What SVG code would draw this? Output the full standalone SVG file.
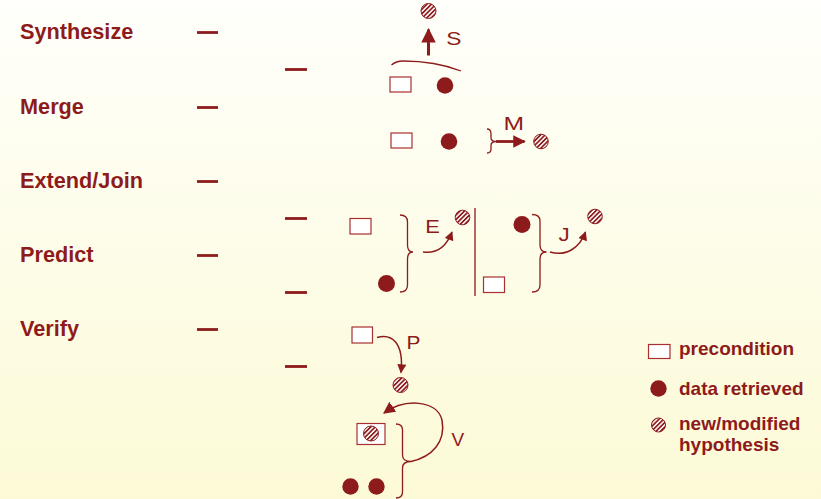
<svg xmlns="http://www.w3.org/2000/svg" width="821" height="499" viewBox="0 0 821 499">
<defs>
<linearGradient id="bg" x1="0" y1="0" x2="0" y2="1">
<stop offset="0" stop-color="#fffffb"/>
<stop offset="1" stop-color="#fcfad6"/>
</linearGradient>
<pattern id="hatch" patternUnits="userSpaceOnUse" width="3.2" height="3.2" patternTransform="rotate(45)">
<rect width="3.2" height="3.2" fill="#ffffff"/>
<rect width="1.7" height="3.2" fill="#8e1b1b"/>
</pattern>
<marker id="ahS" markerUnits="userSpaceOnUse" viewBox="0 0 10 10" refX="9" refY="5" markerWidth="15" markerHeight="14.5" orient="auto"><path d="M0,0 L10,5 L0,10 z" fill="#8e1b1b"/></marker>
<marker id="ahM" markerUnits="userSpaceOnUse" viewBox="0 0 10 10" refX="9" refY="5" markerWidth="14" markerHeight="12.5" orient="auto"><path d="M0,0 L10,5 L0,10 z" fill="#8e1b1b"/></marker>
<marker id="ahs" markerUnits="userSpaceOnUse" viewBox="0 0 10 10" refX="9" refY="5" markerWidth="10" markerHeight="9" orient="auto"><path d="M0,0 L10,5 L0,10 z" fill="#8e1b1b"/></marker>
<marker id="ahV" markerUnits="userSpaceOnUse" viewBox="0 0 10 10" refX="9" refY="5" markerWidth="12" markerHeight="12" orient="auto"><path d="M0,0 L10,5 L0,10 z" fill="#8e1b1b"/></marker>
</defs>
<style>
.lbl{font-family:"Liberation Sans",Arial,sans-serif;font-weight:bold;font-size:21.7px;fill:#8e1b1b}
.leg{font-family:"Liberation Sans",Arial,sans-serif;font-weight:bold;font-size:19px;fill:#8e1b1b}
.op{font-family:"Liberation Sans",Arial,sans-serif;font-size:19px;fill:#8e1b1b}
.dash{stroke:#8e1b1b;stroke-width:2.8}
.pre{fill:#ffffff;stroke:#a83030;stroke-width:1.2}
.dat{fill:#8e1b1b}
.hyp{fill:url(#hatch);stroke:#8e1b1b;stroke-width:1}
.br{fill:none;stroke:#8e1b1b;stroke-width:1.3}
.arr{fill:none;stroke:#8e1b1b;stroke-width:1.5}
</style>
<rect width="821" height="499" fill="url(#bg)"/>

<g id="labels">
<text class="lbl" x="20" y="39">Synthesize</text>
<text class="lbl" x="20" y="114">Merge</text>
<text class="lbl" x="20" y="188">Extend/Join</text>
<text class="lbl" x="20" y="262">Predict</text>
<text class="lbl" x="20" y="336">Verify</text>
</g>

<g id="dashes">
<line class="dash" x1="197" y1="32.5" x2="218" y2="32.5"/>
<line class="dash" x1="197" y1="107.5" x2="218" y2="107.5"/>
<line class="dash" x1="197" y1="181.5" x2="218" y2="181.5"/>
<line class="dash" x1="197" y1="255.5" x2="218" y2="255.5"/>
<line class="dash" x1="197" y1="329.5" x2="218" y2="329.5"/>
<line class="dash" x1="285" y1="69.5" x2="307" y2="69.5"/>
<line class="dash" x1="285" y1="218.5" x2="307" y2="218.5"/>
<line class="dash" x1="285" y1="292.5" x2="307" y2="292.5"/>
<line class="dash" x1="285" y1="366.5" x2="307" y2="366.5"/>
</g>

<g id="synthesize">
<rect class="pre" x="390" y="77" width="21" height="15"/>
<circle class="dat" cx="445" cy="85.5" r="8.3"/>
<circle class="hyp" cx="428.5" cy="11" r="7.5"/>
<text class="op" transform="translate(446.2,45) scale(1.2,1)" font-size="20">S</text>
</g>

<g id="merge">
<rect class="pre" x="391" y="133" width="21" height="15"/>
<circle class="dat" cx="449" cy="141.5" r="8.3"/>
<circle class="hyp" cx="541" cy="141.5" r="7.3"/>
<text class="op" transform="translate(503.5,130) scale(1.3,1)" font-size="18.8">M</text>
</g>

<g id="extend">
<rect class="pre" x="350" y="218.5" width="21" height="15.5"/>
<circle class="dat" cx="386.5" cy="283.5" r="8.5"/>
<circle class="hyp" cx="462.5" cy="217.5" r="7.3"/>
<text class="op" transform="translate(425.2,232.5) scale(1.15,1)">E</text>
</g>

<g id="join">
<circle class="dat" cx="522" cy="224.5" r="8.5"/>
<rect class="pre" x="483.5" y="277" width="21" height="15.5"/>
<circle class="hyp" cx="595" cy="216.5" r="7.3"/>
<text class="op" transform="translate(558.5,241) scale(1.18,1)" font-size="18">J</text>
</g>

<g id="predict">
<rect class="pre" x="352" y="327" width="20.5" height="16"/>
<circle class="hyp" cx="400.5" cy="385" r="7.5"/>
<text class="op" transform="translate(406.5,348.5) scale(1.1,1)" font-size="21">P</text>
</g>

<g id="verify">
<rect class="pre" x="357" y="423.5" width="28" height="21"/>
<circle class="hyp" cx="371" cy="433.5" r="7.5"/>
<circle class="dat" cx="350.5" cy="486.5" r="8.2"/>
<circle class="dat" cx="376.5" cy="486.5" r="8.2"/>
<text class="op" x="451.5" y="446" font-size="22">V</text>
</g>

<g id="legend">
<rect class="pre" x="648.5" y="344.5" width="21.5" height="14"/>
<text class="leg" x="679" y="355">precondition</text>
<circle class="dat" cx="658.5" cy="388.5" r="8.2"/>
<text class="leg" x="679" y="395">data retrieved</text>
<circle class="hyp" cx="658.5" cy="425" r="7"/>
<text class="leg" x="679" y="430">new/modified</text>
<text class="leg" x="679" y="451">hypothesis</text>
</g>

<g id="connectors">
<path class="br" d="M391.5,65 Q396,61 403,61 Q435,61 461,71"/>
<line x1="428.5" y1="55.5" x2="428.5" y2="29.5" stroke="#8e1b1b" stroke-width="3" marker-end="url(#ahS)"/>
<path class="br" d="M487,129 Q491,129 491,134 L491,137.5 Q491,141.5 496,141.5 Q491,141.5 491,145.5 L491,149 Q491,153 487,153"/>
<line x1="496" y1="141.5" x2="524.5" y2="141.5" stroke="#8e1b1b" stroke-width="2.8" marker-end="url(#ahM)"/>
<path class="br" d="M400,215 Q407.5,215 407.5,222 L407.5,245 Q407.5,252 413,252 Q407.5,252 407.5,259 L407.5,285 Q407.5,292 400,292"/>
<path class="arr" d="M423,252 C438,254 447,245 452,232" marker-end="url(#ahs)"/>
<line x1="475" y1="208" x2="475" y2="296" stroke="#a84040" stroke-width="1.6"/>
<path class="br" d="M532,214.5 Q540,214.5 540,221 L540,245 Q540,252 546.5,252 Q540,252 540,259 L540,285 Q540,292 532,292"/>
<path class="arr" d="M550,252 C567,257 580,247 585.5,232" marker-end="url(#ahs)"/>
<path class="arr" d="M377,337.5 C392,333 404,343 401,372.5" marker-end="url(#ahs)"/>
<path class="br" d="M396,424 Q402.5,424 402.5,430 L402.5,455 Q402.5,461.5 411,461.5 Q402.5,461.5 402.5,468 L402.5,492 Q402.5,498 396,498"/>
<path class="arr" d="M411,461.5 C432,457 446,442 442,420 C437,400 405,398 384,413" marker-end="url(#ahV)"/>
</g>
</svg>
